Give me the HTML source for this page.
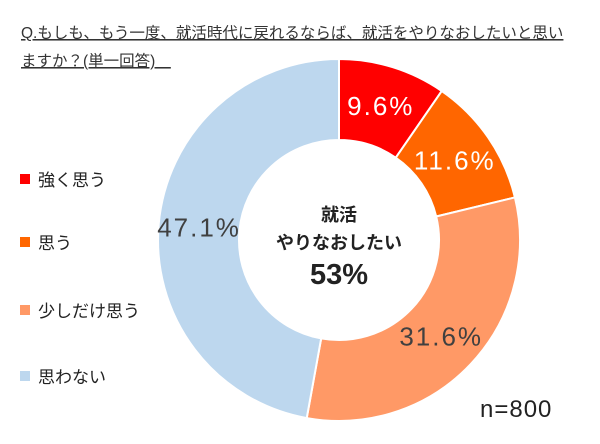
<!DOCTYPE html>
<html><head><meta charset="utf-8"><style>
body{margin:0;background:#fff;width:600px;height:439px;overflow:hidden;font-family:"Liberation Sans","Noto Sans CJK JP",sans-serif;}
svg text{font-family:"Liberation Sans","Noto Sans CJK JP",sans-serif;}
</style></head><body>
<svg width="600" height="439">
<text x="21" y="38" font-size="15.5" fill="#333" text-decoration="underline">Q.もしも、もう一度、就活時代に戻れるならば、就活をやりなおしたいと思い</text>
<text x="21" y="66" font-size="15.5" fill="#333" text-decoration="underline">ますか？(単一回答)　</text>
<g id="slices"></g>
<g id="legend"></g>
<text x="339" y="221" font-size="18" font-weight="bold" text-anchor="middle" fill="#222">就活</text>
<text x="339" y="249" font-size="18" font-weight="bold" text-anchor="middle" fill="#222">やりなおしたい</text>
<text x="339" y="284" font-size="29" font-weight="bold" text-anchor="middle" fill="#222">53%</text>
<text x="480" y="417" font-size="24" letter-spacing="1" fill="#222">n=800</text>
</svg>
<script>
const categories=["強く思う","思う","少しだけ思う","思わない"];
const values=[9.6,11.6,31.6,47.1];
const colors=["#FF0000","#FF6600","#FF9966","#BDD7EE"];
const labelColors=["#fff","#fff","#404040","#404040"];
const ns="http://www.w3.org/2000/svg";
const cx=339,cy=240,R=181,r=100;
const total=values.reduce((a,b)=>a+b,0);
const g=document.getElementById('slices');
let a0=0;
function pt(a,rad){return [cx+rad*Math.sin(a),cy-rad*Math.cos(a)];}
values.forEach((v,i)=>{
 const a1=a0+v/total*2*Math.PI;
 const large=(a1-a0)>Math.PI?1:0;
 const [x1,y1]=pt(a0,R),[x2,y2]=pt(a1,R),[x3,y3]=pt(a1,r),[x4,y4]=pt(a0,r);
 const p=document.createElementNS(ns,'path');
 p.setAttribute('d',`M${x1},${y1}A${R},${R} 0 ${large} 1 ${x2},${y2}L${x3},${y3}A${r},${r} 0 ${large} 0 ${x4},${y4}Z`);
 p.setAttribute('fill',colors[i]);p.setAttribute('stroke','#fff');p.setAttribute('stroke-width','2');
 
 
 g.appendChild(p);
 const am=(a0+a1)/2;const [lx,ly]=pt(am,(R+r)/2);
 const t=document.createElementNS(ns,'text');
 t.setAttribute('x',lx);t.setAttribute('y',ly+9);t.setAttribute('text-anchor','middle');
 t.setAttribute('font-size','26');t.setAttribute('letter-spacing','2');t.setAttribute('fill',labelColors[i]);
 t.textContent=v.toFixed(1)+'%';
 
 
 g.appendChild(t);
 a0=a1;
});
const lg=document.getElementById('legend');
const ly0=[180,243,311,377];
categories.forEach((c,i)=>{
 const s=document.createElementNS(ns,'rect');
 s.setAttribute('x',20);s.setAttribute('y',ly0[i]-6);s.setAttribute('width',10);s.setAttribute('height',10);s.setAttribute('fill',colors[i]);
 
 
 lg.appendChild(s);
 const t=document.createElementNS(ns,'text');
 t.setAttribute('x',38);t.setAttribute('y',ly0[i]+6);t.setAttribute('font-size','17');t.setAttribute('fill','#222');
 t.textContent=c;
 
 
 lg.appendChild(t);
});
</script>
</body></html>
